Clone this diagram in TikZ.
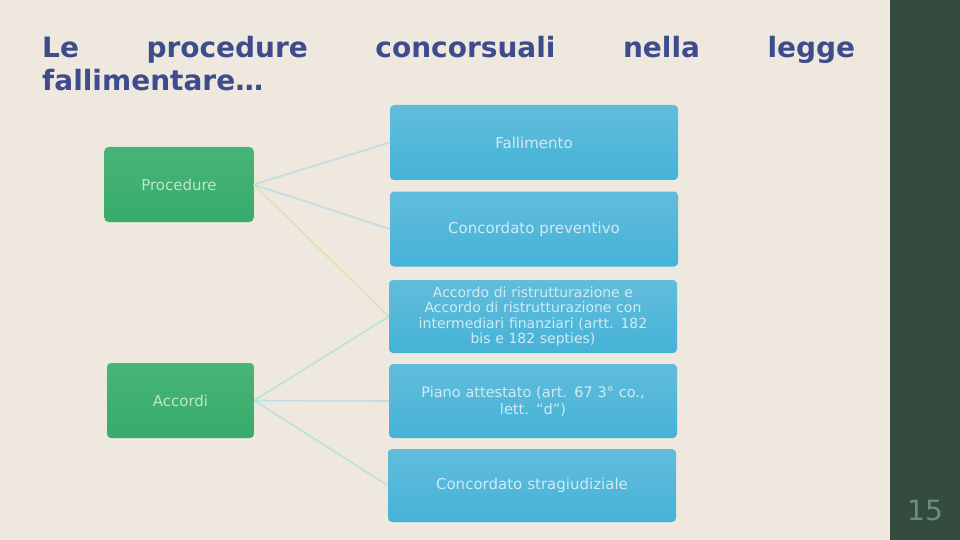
\documentclass[tikz,border=0pt]{standalone}
\usepackage{fontspec}
\setmainfont{DejaVu Sans}
\begin{document}
\begin{tikzpicture}[x=1pt,y=-1pt,
  bluebox/.style={draw=none, rounded corners=4pt, top color=boxtop, bottom color=boxbot,
    minimum width=288pt, minimum height=75pt, text width=270pt, align=center,
    text=white!70!boxtop, font=\fontsize{15}{17}\selectfont, inner sep=0pt},
  greenbox/.style={draw=none, rounded corners=4pt, top color=gtop, bottom color=gbot,
    minimum width=149pt, minimum height=75pt, text=white!65!gtop,
    font=\fontsize{15}{17}\selectfont, inner sep=0pt},
  link/.style={draw=linkc, line width=1.6pt},
  ylink/.style={draw=ylinkc, line width=1.6pt}]
\definecolor{bg}{HTML}{EEE8DF}
\definecolor{side}{HTML}{344C3F}
\definecolor{boxtop}{HTML}{62BCDB}
\definecolor{boxbot}{HTML}{45B3D8}
\definecolor{gtop}{HTML}{48B477}
\definecolor{gbot}{HTML}{37AC6B}
\definecolor{linkc}{HTML}{BCDFE2}
\definecolor{ylinkc}{HTML}{DDE3AE}
\definecolor{titlec}{HTML}{3E4C8E}
\definecolor{numc}{HTML}{6E8C7A}
\useasboundingbox (0,0) rectangle (960,540);
\fill[bg] (0,0) rectangle (960,540);
\fill[side] (890,0) rectangle (960,540);
\node[anchor=north west, inner sep=0pt, text=titlec, font=\fontsize{28}{33}\selectfont\bfseries] (title) at (42,36)
  {\parbox{813pt}{Le procedure concorsuali nella legge\linebreak fallimentare\ldots}};
\node[text=numc, font=\fontsize{28}{30}\selectfont] (num) at (925,510) {15};
% right boxes
\node[bluebox] (b1) at (534,142.5) {Fallimento};
\node[bluebox] (b2) at (534,229) {Concordato preventivo};
\node[bluebox, minimum height=73pt, font=\fontsize{14}{15.5}\selectfont] (b3) at (533,316.5) {Accordo di ristrutturazione e\\ Accordo di ristrutturazione con\\ intermediari finanziari (artt. 182\\ bis e 182 septies)};
\node[bluebox, minimum height=74pt, font=\fontsize{14.5}{17}\selectfont] (b4) at (533,401) {Piano attestato (art. 67 3° co.,\\ lett. ``d'')};
\node[bluebox, minimum height=73pt] (b5) at (532,485.5) {Concordato stragiudiziale};
% left boxes
\node[greenbox] (p) at (179,184.5) {Procedure};
\node[greenbox, minimum width=147pt] (a) at (180.5,400.5) {Accordi};
% links
\draw[ylink] (p.east) -- (b3.west);
\draw[link] (p.east) -- (b1.west);
\draw[link] (p.east) -- (b2.west);
\draw[link] (a.east) -- (b3.west);
\draw[link] (a.east) -- (b4.west);
\draw[link] (a.east) -- (b5.west);
\end{tikzpicture}
\end{document}
